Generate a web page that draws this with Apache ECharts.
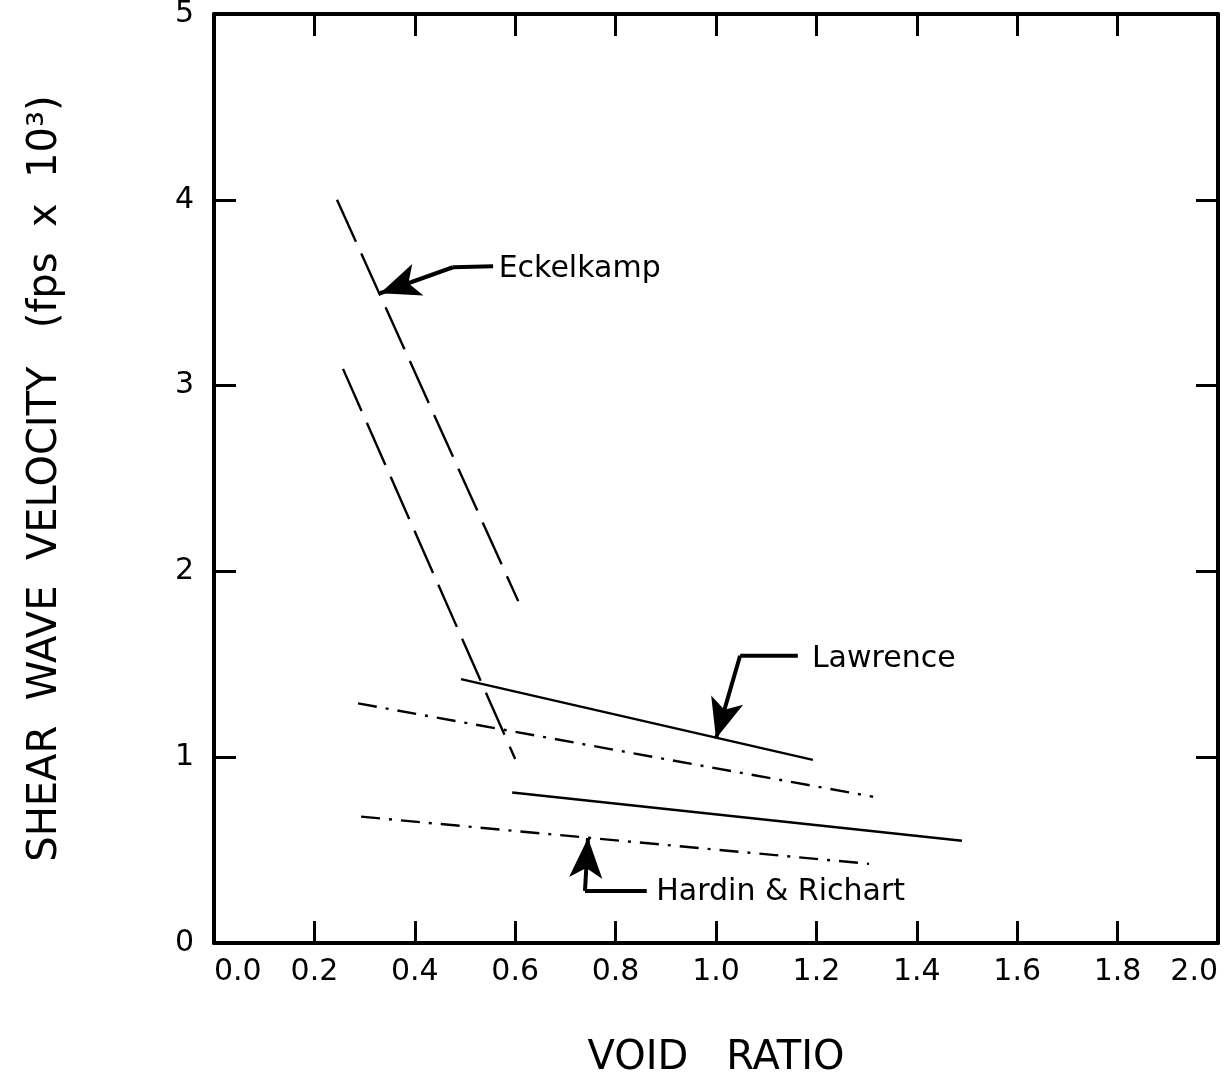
<!DOCTYPE html>
<html>
<head>
<meta charset="utf-8">
<script src="https://cdn.jsdelivr.net/npm/echarts@6/dist/echarts.min.js"></script>
<style>html,body{margin:0;padding:0;background:#fff;}#c{width:1225px;height:1075px;}</style>
</head>
<body>
<div id="c"></div>
<script>
// ---- data ----
const xTicks = [0.0, 0.2, 0.4, 0.6, 0.8, 1.0, 1.2, 1.4, 1.6, 1.8, 2.0];
const yTicks = [0, 1, 2, 3, 4, 5];

const eckUpperX = [0.245, 0.606];
const eckUpperY = [4.00, 1.84];
const eckLowerX = [0.257, 0.600];
const eckLowerY = [3.09, 0.99];

const lawUpperX = [0.492, 1.193];
const lawUpperY = [1.42, 0.986];
const lawLowerX = [0.594, 1.490];
const lawLowerY = [0.81, 0.55];

const hrUpperX = [0.287, 1.313];
const hrUpperY = [1.29, 0.787];
const hrLowerX = [0.293, 1.305];
const hrLowerY = [0.68, 0.426];

// annotations: label anchor, leader (horizontal part), arrow tip
const annNames   = ['Eckelkamp', 'Lawrence', 'Hardin & Richart'];
const annLabelX  = [0.566, 1.190, 0.880];
const annLabelY  = [3.625, 1.525, 0.275];
const annStartX  = [0.556, 1.163, 0.862];
const annStartY  = [3.642, 1.546, 0.280];
const annBendX   = [0.476, 1.048, 0.739];
const annBendY   = [3.637, 1.546, 0.280];
const annTipX    = [0.331, 1.000, 0.745];
const annTipY    = [3.497, 1.100, 0.565];

const zip = (xs, ys) => xs.map((x, i) => [x, ys[i]]);
const FONT = 'DejaVu Sans';
const INK = '#000';

function dataLine(name, xs, ys, dash) {
  return {
    name, type: 'line', data: zip(xs, ys), showSymbol: false, symbol: 'none',
    lineStyle: { color: INK, width: 2.4, type: dash },
    silent: true, animation: false, z: 3
  };
}

const series = [
  dataLine('Eckelkamp upper', eckUpperX, eckUpperY, [46, 13]),
  dataLine('Eckelkamp lower', eckLowerX, eckLowerY, [46, 13]),
  dataLine('Lawrence upper', lawUpperX, lawUpperY, 'solid'),
  dataLine('Lawrence lower', lawLowerX, lawLowerY, 'solid'),
  dataLine('Hardin upper', hrUpperX, hrUpperY, [19, 9, 3, 9]),
  dataLine('Hardin lower', hrLowerX, hrLowerY, [19, 9, 3, 9])
];

annNames.forEach((n, i) => {
  series.push({
    name: n + ' leader', type: 'line', showSymbol: false, symbol: 'none', silent: true, animation: false,
    data: [[annStartX[i], annStartY[i]], [annBendX[i], annBendY[i]]],
    lineStyle: { color: INK, width: 4 },
    markLine: {
      silent: true, animation: false,
      symbol: ['none', 'arrow'], symbolSize: [25, 40],
      label: { show: false },
      lineStyle: { color: INK, width: 4, type: 'solid' },
      data: [[{ coord: [annBendX[i], annBendY[i]] }, { coord: [annTipX[i], annTipY[i]] }]]
    }
  });
  series.push({
    name: n, type: 'scatter', symbolSize: 1, silent: true, animation: false,
    itemStyle: { color: 'rgba(0,0,0,0)' },
    data: [[annLabelX[i], annLabelY[i]]],
    label: { show: true, position: 'right', distance: 0, formatter: n,
      fontFamily: FONT, fontSize: 30, color: '#000', opacity: 1, textBorderWidth: 0 }
  });
});

const axisCommon = {
  type: 'value', min: 0,
  splitLine: { show: false },
  axisLine: { show: true, onZero: false, lineStyle: { color: INK, width: 4 } },
  axisTick: { show: true, inside: true, length: 22, lineStyle: { color: INK, width: 3 } }
};

const option = {
  backgroundColor: '#fff',
  animation: false,
  grid: { left: 214, right: 7, top: 14, bottom: 132, containLabel: false, outerBoundsMode: 'none' },
  xAxis: [
    Object.assign({}, axisCommon, {
      max: 2.0, interval: 0.2, position: 'bottom',
      name: 'VOID   RATIO', nameLocation: 'middle', nameGap: 96,
      nameTextStyle: { fontFamily: FONT, fontSize: 40, color: INK, verticalAlign: 'top' },
      axisLabel: { show: true, margin: 14, fontFamily: FONT, fontSize: 30, color: INK,
        alignMinLabel: 'left', alignMaxLabel: 'right',
        formatter: v => xTicks.find(t => Math.abs(t - v) < 1e-6).toFixed(1) }
    }),
    Object.assign({}, axisCommon, {
      max: 2.0, interval: 0.2, position: 'top', axisLabel: { show: false }
    })
  ],
  yAxis: [
    Object.assign({}, axisCommon, {
      max: 5, interval: 1, position: 'left',
      name: 'SHEAR  WAVE  VELOCITY   (fps  x  10³)', nameLocation: 'middle', nameGap: 148, nameRotate: 90,
      nameTextStyle: { fontFamily: FONT, fontSize: 40, color: INK },
      axisLabel: { show: true, margin: 20, fontFamily: FONT, fontSize: 30, color: INK,
        formatter: v => String(yTicks.find(t => Math.abs(t - v) < 1e-6)) }
    }),
    Object.assign({}, axisCommon, {
      max: 5, interval: 1, position: 'right', axisLabel: { show: false }
    })
  ],
  series
};

const chart = echarts.init(document.getElementById('c'), null, { renderer: 'canvas' });
chart.setOption(option);
</script>
</body>
</html>
